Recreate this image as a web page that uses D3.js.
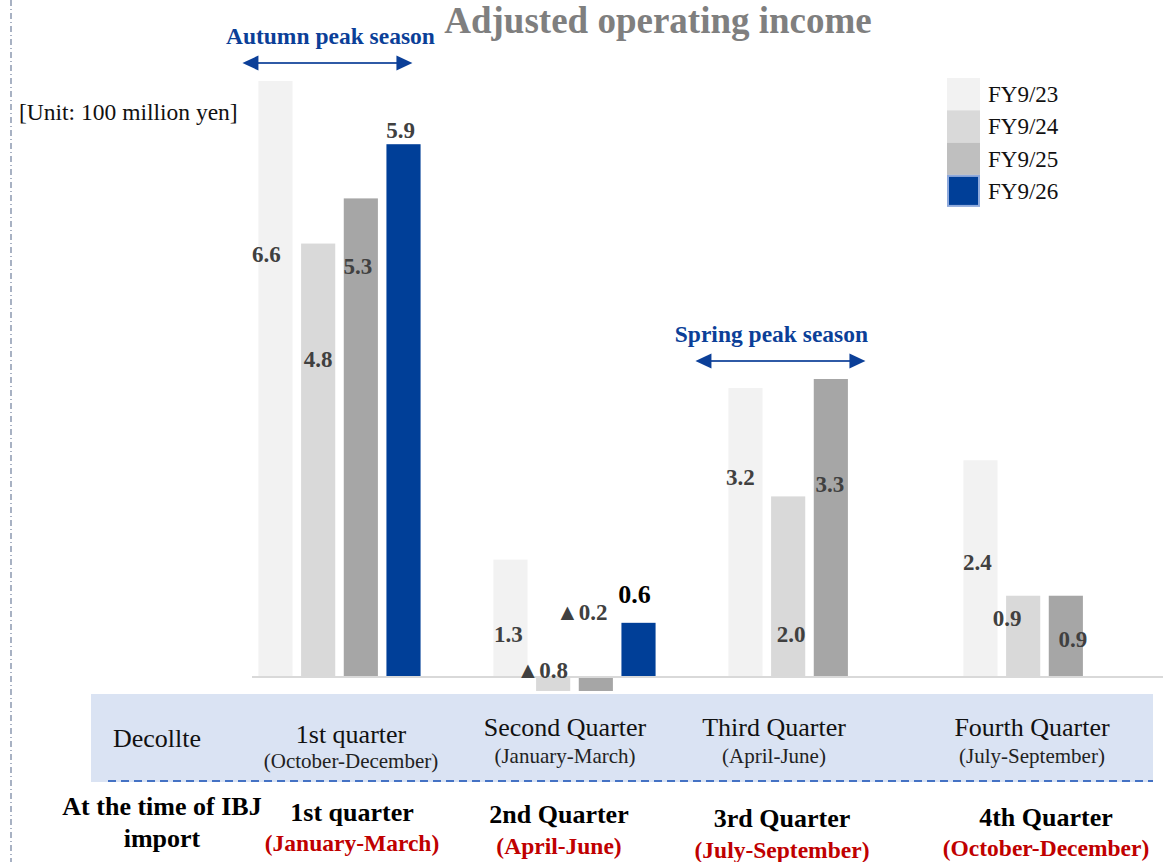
<!DOCTYPE html>
<html>
<head>
<meta charset="utf-8">
<script src="https://cdn.jsdelivr.net/npm/d3@7"></script>
<style>
  body { margin: 0; background: #fff; }
  svg text { font-family: 'Liberation Serif', 'Times New Roman', serif; }
</style>
</head>
<body>
<div id="chart"></div>
<script>
// data
const quarters = ['Q1', 'Q2', 'Q3', 'Q4']
const seriesNames = ['FY9/23', 'FY9/24', 'FY9/25', 'FY9/26']
const fy23 = [6.6, 1.3, 3.2, 2.4]
const fy24 = [4.8, -0.8, 2.0, 0.9]
const fy25 = [5.3, -0.2, 3.3, 0.9]
const fy26 = [5.9, 0.6, null, null]

const decollteMain = ['1st quarter', 'Second Quarter', 'Third Quarter', 'Fourth Quarter']
const decollteSub = ['(October-December)', '(January-March)', '(April-June)', '(July-September)']
const ibjMain = ['1st quarter', '2nd Quarter', '3rd Quarter', '4th Quarter']
const ibjSub = ['(January-March)', '(April-June)', '(July-September)', '(October-December)']

// layout only: where each data label sits (value units) and its sideways nudge (px)
const labelAt = [
	[4.68, 0.48, 2.21, 1.27],
	[3.52, 0.08, 0.48, 0.65],
	[4.55, 0.72, 2.14, 0.42],
	[6.06, 0.92, null, null]
]
const labelDx = [
	[-9, -2, -5, -3],
	[0, -11, 3, -16],
	[-3, -14, -1, 7],
	[-3, -4, 0, 0]
]

const barColors = ['#f2f2f2', '#d9d9d9', '#a6a6a6', '#003f98']
const legendColors = ['#f2f2f2', '#d9d9d9', '#bfbfbf', '#003f98']

const width = 1171
	, height = 862
	, series = [fy23, fy24, fy25, fy26]

const svg = d3.select('#chart').append('svg')
	.attr('width', width)
	.attr('height', height)

// left dash-dot border
svg.append('line')
	.attr('x1', 11).attr('x2', 11)
	.attr('y1', 0).attr('y2', height)
	.attr('stroke', '#6f7f9c')
	.attr('stroke-width', 1.2)
	.attr('stroke-dasharray', '6,3,1,3')

// scales
const x0 = d3.scaleBand()
	.domain(quarters)
	.range([222, 1162])
	.paddingInner(0.31)
	.paddingOuter(0.155)

const x1 = d3.scaleBand()
	.domain(seriesNames)
	.range([0, x0.bandwidth()])
	.paddingInner(0.2)
	.paddingOuter(0)

const y = d3.scaleLinear()
	.domain([0, 6.6])
	.range([677, 81])

// title
svg.append('text')
	.attr('x', 658).attr('y', 33)
	.attr('text-anchor', 'middle')
	.style('font-size', '37px')
	.style('font-weight', 'bold')
	.attr('fill', '#7f7f7f')
	.text('Adjusted operating income')

svg.append('text')
	.attr('x', 19).attr('y', 120)
	.style('font-size', '23.5px')
	.attr('fill', '#111')
	.text('[Unit: 100 million yen]')

// bars (clipped just above the table band)
svg.append('clipPath').attr('id', 'plotClip')
	.append('rect').attr('x', 0).attr('y', 0).attr('width', width).attr('height', 691)

const barRows = []
series.forEach((vals, si) => {
	vals.forEach((v, qi) => {
		if (v === null) return
		barRows.push({ s: seriesNames[si], si: si, q: quarters[qi], qi: qi, v: v })
	})
})

svg.append('g')
	.attr('clip-path', 'url(#plotClip)')
	.selectAll('rect')
	.data(barRows)
	.join('rect')
	  .attr('x', d => x0(d.q) + x1(d.s))
	  .attr('y', d => y(Math.max(0, d.v)))
	  .attr('width', x1.bandwidth())
	  .attr('height', d => Math.abs(y(d.v) - y(0)))
	  .attr('fill', d => barColors[d.si])

// zero line
svg.append('line')
	.attr('x1', 252).attr('x2', 1163)
	.attr('y1', y(0)).attr('y2', y(0))
	.attr('stroke', '#d9d9d9')
	.attr('stroke-width', 2)

// data labels
const fmt = d3.format('.1f')
const lastFy26 = d3.max(fy26.map((v, i) => v === null ? -1 : i))

svg.append('g')
	.selectAll('text')
	.data(barRows)
	.join('text')
	  .attr('x', d => x0(d.q) + x1(d.s) + x1.bandwidth() / 2 + labelDx[d.si][d.qi])
	  .attr('y', d => y(labelAt[d.si][d.qi]))
	  .attr('dy', '0.35em')
	  .attr('text-anchor', 'middle')
	  .style('font-weight', 'bold')
	  .style('font-size', d => (d.si === 3 && d.qi === lastFy26) ? '26px' : '23px')
	  .attr('fill', d => (d.si === 3 && d.qi === lastFy26) ? '#000' : '#404040')
	  .text(d => (d.v < 0 ? '▲' : '') + fmt(Math.abs(d.v)))

// peak season annotations
const seasons = [
	{ text: 'Autumn peak season', q: 'Q1', from: -16, to: 154, tdx: 3 },
	{ text: 'Spring peak season', q: 'Q3', from: -33, to: 137, tdx: -9 }
]
const seasonBlue = '#0b3f98'

seasons.forEach(s => {
	const qi = quarters.indexOf(s.q)
		, top = d3.max(series, vals => vals[qi] === null ? 0 : vals[qi])
		, ay = y(top) - 18
		, xa = x0(s.q) + s.from
		, xb = x0(s.q) + s.to
		, g = svg.append('g')

	g.append('line')
		.attr('x1', xa + 12).attr('x2', xb - 12)
		.attr('y1', ay).attr('y2', ay)
		.attr('stroke', '#2f5aa6')
		.attr('stroke-width', 2)
	g.append('path')
		.attr('d', `M${xa},${ay} L${xa + 16},${ay - 7.5} L${xa + 16},${ay + 7.5} Z`)
		.attr('fill', seasonBlue)
	g.append('path')
		.attr('d', `M${xb},${ay} L${xb - 16},${ay - 7.5} L${xb - 16},${ay + 7.5} Z`)
		.attr('fill', seasonBlue)
	g.append('text')
		.attr('x', (xa + xb) / 2 + s.tdx)
		.attr('y', ay - 19)
		.attr('text-anchor', 'middle')
		.style('font-size', '23.5px')
		.style('font-weight', 'bold')
		.attr('fill', seasonBlue)
		.text(s.text)
})

// legend
const legend = svg.append('g')
	.attr('transform', 'translate(947,78)')
	.selectAll('g')
	.data(seriesNames)
	.join('g')
	  .attr('transform', (d, i) => 'translate(0,' + (i * 32.3) + ')')

legend.append('rect')
	.attr('x', (d, i) => i === 3 ? 1 : 0)
	.attr('y', (d, i) => i === 3 ? 1 : 0)
	.attr('width', (d, i) => i === 3 ? 31 : 33)
	.attr('height', (d, i) => i === 3 ? 30 : 32.3)
	.attr('fill', (d, i) => legendColors[i])
	.attr('stroke', (d, i) => i === 3 ? '#8faadc' : 'none')
	.attr('stroke-width', 2)

legend.append('text')
	.attr('x', 41)
	.attr('y', 24)
	.style('font-size', '23px')
	.attr('fill', '#111')
	.text(d => d)

// table band (columns are placed by hand in the original, not on the bar groups)
const colDecollte = [351, 565, 774, 1032]
	, rowDecollte = [[743, 768], [736, 763], [736, 763], [736, 763]]
	, colIbj = [352, 559, 782, 1046]
	, rowIbj = [[821, 851], [823, 854], [827, 858], [826, 856]]

svg.append('rect')
	.attr('x', 91).attr('y', 694)
	.attr('width', 1062).attr('height', 88)
	.attr('fill', '#dae3f3')

svg.append('line')
	.attr('x1', 108).attr('x2', 1153)
	.attr('y1', 781).attr('y2', 781)
	.attr('stroke', '#4472c4')
	.attr('stroke-width', 2)
	.attr('stroke-dasharray', '8,5')

svg.append('text')
	.attr('x', 157).attr('y', 747)
	.attr('text-anchor', 'middle')
	.style('font-size', '26px')
	.attr('fill', '#111')
	.text('Decollte')

const dCols = svg.append('g')
	.selectAll('g')
	.data(quarters)
	.join('g')
	  .attr('transform', (d, i) => 'translate(' + colDecollte[i] + ',0)')

dCols.append('text')
	.attr('y', (d, i) => rowDecollte[i][0])
	.attr('text-anchor', 'middle')
	.style('font-size', '26px')
	.attr('fill', '#111')
	.text((d, i) => decollteMain[i])

dCols.append('text')
	.attr('y', (d, i) => rowDecollte[i][1])
	.attr('text-anchor', 'middle')
	.style('font-size', '21px')
	.attr('fill', '#222')
	.text((d, i) => decollteSub[i])

// IBJ row
const ibjHead = svg.append('text')
	.attr('text-anchor', 'middle')
	.style('font-size', '26px')
	.style('font-weight', 'bold')
	.attr('fill', '#000')
ibjHead.append('tspan').attr('x', 162).attr('y', 815).text('At the time of IBJ')
ibjHead.append('tspan').attr('x', 162).attr('y', 847).text('import')

const iCols = svg.append('g')
	.selectAll('g')
	.data(quarters)
	.join('g')
	  .attr('transform', (d, i) => 'translate(' + colIbj[i] + ',0)')

iCols.append('text')
	.attr('y', (d, i) => rowIbj[i][0])
	.attr('text-anchor', 'middle')
	.style('font-size', '26px')
	.style('font-weight', 'bold')
	.attr('fill', '#000')
	.text((d, i) => ibjMain[i])

iCols.append('text')
	.attr('y', (d, i) => rowIbj[i][1])
	.attr('text-anchor', 'middle')
	.style('font-size', '23.5px')
	.style('font-weight', 'bold')
	.attr('fill', '#c00000')
	.text((d, i) => ibjSub[i])
</script>
</body>
</html>
